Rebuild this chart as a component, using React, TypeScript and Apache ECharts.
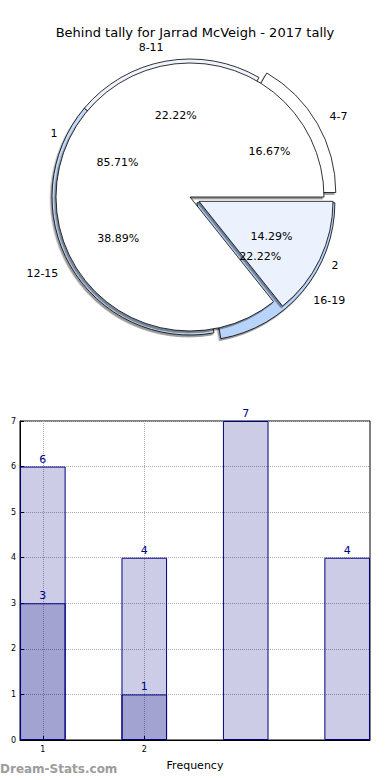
import React, { useEffect, useRef } from 'react';
import * as echarts from 'echarts';

// ---------- data ----------
const chartTitle = 'Behind tally for Jarrad McVeigh - 2017 tally';

const frontNames = ['1', '2'];
const frontValues = [6, 1];

const backNames = ['4-7', '8-11', '12-15', '16-19'];
const backValues = [3, 4, 7, 4];

const barPositions = [1, 2, 3, 4];
const barTotals = [6, 4, 7, 4];
const subPositions = [1, 2];
const subValues = [3, 1];
const xTickValues = [1, 2];

const xAxisName = 'Frequency';
const yAxisName = 'Stat Intervals';
const watermark = 'Dream-Stats.com';

// ---------- styles ----------
const FONT = 'DejaVu Sans';
const frontColors = ['#ffffff', '#ebf2fd'];
const frontExplode = [0, 10];
const backColors = ['#ffffff', '#eef3fc', '#c3daf9', '#b8d4fa'];
const backExplode = [9, 0, 0, 9];
const PIE_CENTER = [190, 197];
const FRONT_R = 134;
const BACK_R = 138;

const shadow = {
  shadowBlur: 1,
  shadowColor: 'rgba(0,0,0,0.4)',
  shadowOffsetX: -1.5,
  shadowOffsetY: 2,
};

function pieSeries(
  names: string[],
  values: number[],
  colors: string[],
  explode: number[],
  offset: number,
  r: number,
  pct: boolean
) {
  return {
    type: 'pie',
    center: PIE_CENTER,
    radius: pct ? r * 1.2 - 6 : r,
    startAngle: 0,
    clockwise: false,
    selectedMode: 'multiple',
    selectedOffset: offset,
    avoidLabelOverlap: false,
    silent: true,
    emphasis: { disabled: true },
    label: {
      position: pct ? 'inside' : 'outside',
      formatter: pct ? '{d}%' : '{b}',
      color: '#000000',
      fontSize: 11,
      fontFamily: FONT,
      distanceToLabelLine: 0,
      alignTo: 'none',
    },
    labelLine: { show: false, length: Math.round(r * 0.1), length2: 0 },
    data: names.map((name, i) => {
      const visible = explode[i] === offset;
      const style = pct
        ? { color: 'rgba(0,0,0,0)', borderWidth: 0 }
        : visible
        ? { color: colors[i], borderColor: '#000', borderWidth: 0.8, ...shadow }
        : { color: 'rgba(0,0,0,0)', borderWidth: 0 };
      return {
        name,
        value: values[i],
        selected: visible && offset > 0,
        itemStyle: style,
        label: { show: visible },
        select: { itemStyle: style },
      };
    }),
  };
}

export default function App() {
  const ref = useRef<HTMLDivElement>(null);

  useEffect(() => {
    document.body.style.margin = '0';
    if (!ref.current) return;
    const chart = echarts.init(ref.current, undefined, { renderer: 'svg' });

    const backOffsets = Array.from(new Set(backExplode));
    const frontOffsets = Array.from(new Set(frontExplode));

    const barLabel = {
      show: true,
      position: 'top',
      distance: 2,
      color: '#00008b',
      fontSize: 11,
      fontFamily: FONT,
      formatter: (p: any) => String(p.value[1]),
    };
    const barStyle = { color: 'rgba(0,0,128,0.2)', borderColor: '#000080', borderWidth: 1 };

    const option = {
      animation: false,
      textStyle: { fontFamily: FONT },
      title: {
        text: chartTitle,
        left: 'center',
        top: 21,
        textStyle: { fontSize: 13, fontWeight: 'normal', color: '#000', fontFamily: FONT },
      },
      grid: {
        left: 20,
        right: 20,
        top: 421,
        bottom: 40,
        outerBoundsMode: 'none',
        containLabel: false,
        show: true,
        borderColor: '#000',
        borderWidth: 1,
        backgroundColor: 'transparent',
      },
      xAxis: {
        type: 'value',
        min: 0.775,
        max: 4.225,
        name: xAxisName,
        nameLocation: 'middle',
        nameGap: 20,
        nameTextStyle: { fontSize: 11, color: '#000', fontFamily: FONT },
        axisLine: { show: true, lineStyle: { color: '#000' } },
        axisTick: { show: true, inside: true, length: 4, customValues: xTickValues, lineStyle: { color: '#000' } },
        axisLabel: { customValues: xTickValues, fontSize: 8, color: '#000', margin: 5, formatter: (v: number) => String(v) },
        splitLine: { show: true, lineStyle: { type: 'dotted', color: '#aaa', width: 1 } },
      },
      yAxis: {
        type: 'value',
        min: 0,
        max: 7,
        interval: 1,
        name: yAxisName,
        nameLocation: 'middle',
        nameGap: 15,
        nameTextStyle: { fontSize: 11, color: '#000', fontFamily: FONT },
        axisLine: { show: true, lineStyle: { color: '#000' } },
        axisTick: { show: true, inside: true, length: 4, lineStyle: { color: '#000' } },
        axisLabel: { fontSize: 8, color: '#000', margin: 4 },
        splitLine: { show: true, lineStyle: { type: 'dotted', color: '#aaa', width: 1 } },
      },
      graphic: [
        {
          type: 'text',
          left: 0,
          top: 763,
          style: { text: watermark, fill: '#9c9c9c', fontSize: 12, fontWeight: 'bold', fontFamily: FONT },
        },
      ],
      series: [
        ...backOffsets.map((o) => pieSeries(backNames, backValues, backColors, backExplode, o, BACK_R, false)),
        ...frontOffsets.map((o) => pieSeries(frontNames, frontValues, frontColors, frontExplode, o, FRONT_R, false)),
        ...backOffsets.map((o) => pieSeries(backNames, backValues, backColors, backExplode, o, BACK_R, true)),
        ...frontOffsets.map((o) => pieSeries(frontNames, frontValues, frontColors, frontExplode, o, FRONT_R, true)),
        {
          type: 'bar',
          data: barPositions.map((x, i) => [x, barTotals[i]]),
          barWidth: 45.6,
          itemStyle: barStyle,
          label: barLabel,
          silent: true,
        },
        {
          type: 'bar',
          data: subPositions.map((x, i) => [x, subValues[i]]),
          barWidth: 45.6,
          barGap: '-100%',
          itemStyle: barStyle,
          label: barLabel,
          silent: true,
        },
      ],
    };

    chart.setOption(option as any);
    return () => chart.dispose();
  }, []);

  return <div ref={ref} style={{ width: 390, height: 780 }} />;
}
